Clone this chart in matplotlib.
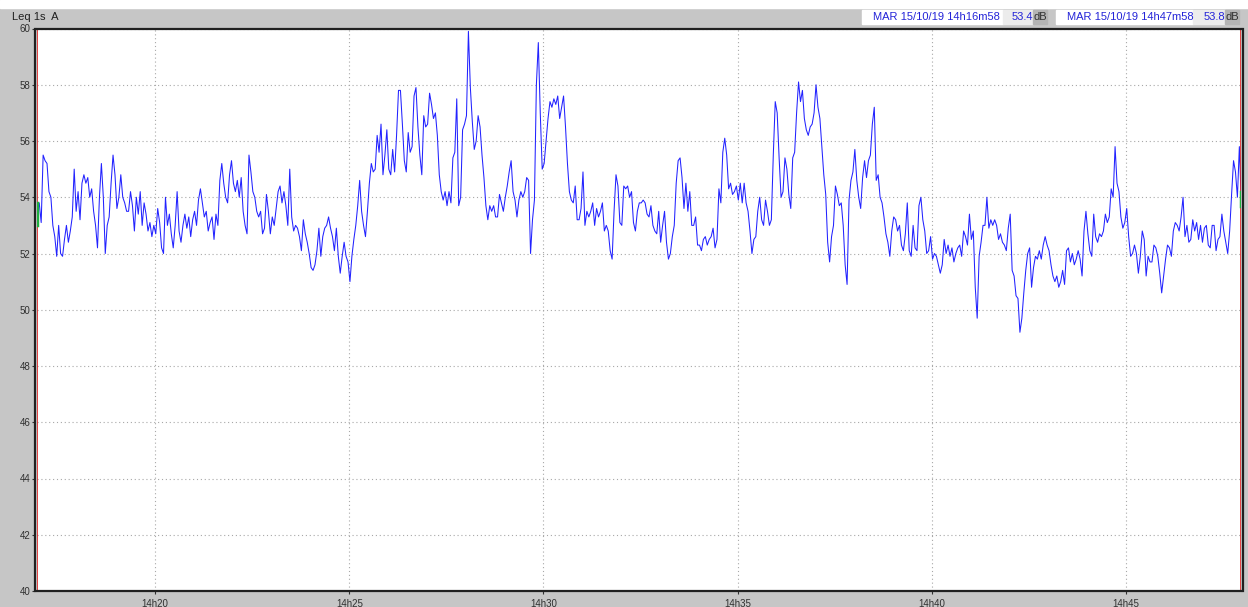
import numpy as np
import matplotlib
matplotlib.use("Agg")
import matplotlib.pyplot as plt
from matplotlib.patches import Rectangle

plt.rcParams['font.family'] = ['Liberation Sans', 'DejaVu Sans']

# Leq 1s A, MAR 15/10/19 14h16m58 -> 14h47m58, values read every 3 s
step_s = 3
start_label = "MAR 15/10/19 14h16m58"
end_label = "MAR 15/10/19 14h47m58"
start_value = 53.4
end_value = 53.8

# one row = one minute (20 values)
leq = [
    53.4, 53.8, 53.1, 55.5, 55.3, 55.2, 54.2, 54.0, 53.0, 52.6, 51.9, 53.0, 52.0, 51.9, 52.5, 53.0, 52.4, 52.8, 53.3, 55.0,
    53.5, 54.2, 53.2, 54.5, 54.8, 54.5, 54.7, 54.0, 54.3, 53.5, 53.0, 52.2, 54.0, 55.2, 54.0, 52.0, 53.0, 53.3, 54.5, 55.5,
    54.8, 53.6, 54.0, 54.8, 54.0, 53.8, 53.5, 53.5, 54.2, 53.7, 52.8, 54.0, 53.4, 54.2, 53.0, 53.8, 53.4, 52.8, 53.1, 52.6,
    53.0, 52.7, 53.6, 53.1, 52.2, 52.0, 54.0, 53.0, 53.4, 52.7, 52.2, 53.0, 54.2, 52.8, 52.4, 53.0, 53.4, 52.9, 53.3, 52.6,
    53.2, 53.5, 53.0, 53.9, 54.3, 53.8, 53.3, 53.5, 52.8, 53.1, 53.3, 52.5, 53.4, 53.0, 54.6, 55.2, 54.5, 54.0, 53.8, 54.8,
    55.3, 54.5, 54.2, 54.6, 54.0, 54.7, 53.5, 53.0, 52.7, 55.5, 54.9, 54.2, 54.0, 53.5, 53.3, 53.5, 52.7, 52.9, 54.1, 53.5,
    52.7, 53.3, 53.0, 53.6, 54.2, 54.4, 53.8, 54.2, 53.7, 53.0, 55.0, 53.3, 52.8, 53.0, 52.9, 52.6, 52.1, 53.2, 52.7, 52.4,
    52.0, 51.5, 51.4, 51.6, 52.1, 52.9, 51.9, 52.6, 52.9, 53.0, 53.3, 52.9, 52.6, 52.1, 52.9, 51.9, 51.3, 51.9, 52.4, 51.9,
    51.7, 51.0, 51.9, 52.5, 53.0, 53.7, 54.6, 53.5, 53.0, 52.6, 53.5, 54.5, 55.2, 54.9, 55.0, 56.2, 55.6, 56.6, 54.8, 55.5,
    56.4, 55.0, 54.8, 55.7, 54.9, 56.2, 57.8, 57.8, 56.6, 55.3, 54.9, 56.3, 55.6, 55.8, 57.6, 57.9, 56.5, 55.5, 54.8, 56.9,
    56.5, 56.6, 57.7, 57.3, 56.8, 57.0, 56.2, 54.8, 54.2, 53.9, 54.2, 53.7, 54.2, 53.8, 55.4, 55.6, 57.5, 53.7, 54.0, 56.4,
    56.6, 56.9, 59.9, 57.9, 56.7, 55.7, 56.0, 56.9, 56.5, 55.5, 54.7, 53.7, 53.2, 53.7, 53.5, 53.7, 53.3, 53.3, 54.1, 53.8,
    53.5, 54.0, 54.4, 54.9, 55.3, 54.2, 53.9, 53.3, 53.9, 54.2, 54.0, 54.2, 54.7, 54.6, 52.0, 53.2, 53.9, 58.0, 59.5, 57.0,
    55.0, 55.2, 56.0, 56.8, 57.4, 57.2, 57.5, 57.3, 57.6, 56.8, 57.2, 57.6, 56.5, 55.2, 54.2, 53.9, 53.8, 54.4, 53.2, 53.2,
    53.6, 54.9, 53.0, 53.5, 53.3, 53.5, 53.8, 53.0, 53.6, 53.3, 53.5, 53.8, 52.8, 53.0, 52.8, 52.1, 51.8, 53.5, 54.8, 54.4,
    53.1, 53.0, 54.4, 54.3, 54.4, 54.0, 54.2, 53.1, 52.8, 53.5, 53.8, 53.8, 53.9, 53.8, 53.4, 53.3, 53.7, 53.0, 52.8, 52.7,
    53.5, 52.4, 53.0, 53.5, 52.4, 51.8, 52.0, 52.6, 53.0, 54.5, 55.3, 55.4, 54.7, 53.6, 54.5, 53.5, 54.2, 53.0, 53.0, 53.3,
    52.3, 52.3, 52.1, 52.5, 52.6, 52.3, 52.5, 52.6, 52.9, 52.2, 52.5, 54.3, 53.8, 55.6, 56.1, 55.5, 54.3, 54.5, 54.1, 54.2,
    54.4, 53.9, 54.5, 53.8, 54.5, 53.8, 53.5, 52.8, 52.0, 52.5, 52.6, 53.5, 54.0, 53.2, 53.0, 53.9, 53.5, 53.0, 53.2, 55.5,
    57.4, 57.0, 55.4, 54.0, 54.2, 55.4, 55.0, 54.1, 53.6, 55.4, 55.6, 57.0, 58.1, 57.4, 57.8, 56.8, 56.4, 56.2, 56.5, 56.6,
    57.0, 58.0, 57.2, 56.8, 55.8, 54.8, 54.1, 52.4, 51.7, 52.6, 53.0, 54.4, 54.1, 53.7, 53.8, 53.0, 51.6, 50.9, 53.9, 54.6,
    54.9, 55.7, 54.6, 54.0, 53.6, 54.7, 55.3, 54.7, 55.3, 55.5, 56.6, 57.2, 54.6, 54.8, 54.0, 53.8, 53.3, 52.7, 52.4, 51.9,
    52.8, 53.3, 53.2, 52.8, 53.0, 52.3, 52.1, 52.7, 53.8, 52.1, 51.9, 53.0, 52.2, 52.1, 53.7, 54.0, 53.2, 52.8, 52.0, 52.1,
    52.6, 51.8, 52.0, 51.9, 51.6, 51.3, 51.6, 52.5, 52.0, 52.3, 51.9, 52.2, 51.7, 52.0, 52.2, 52.3, 51.9, 52.8, 52.6, 52.3,
    53.4, 52.5, 52.8, 50.8, 49.7, 51.9, 52.4, 53.0, 53.0, 54.0, 52.9, 53.2, 53.0, 53.2, 53.0, 52.5, 52.7, 52.4, 52.3, 52.1,
    52.9, 53.4, 51.4, 51.2, 50.5, 50.4, 49.2, 49.7, 50.6, 51.4, 52.0, 52.2, 50.8, 51.5, 51.9, 51.8, 52.1, 51.8, 52.3, 52.6,
    52.3, 52.1, 51.6, 51.2, 51.0, 51.2, 50.8, 51.0, 51.4, 50.9, 52.1, 52.2, 51.7, 52.0, 51.6, 51.8, 52.1, 51.8, 51.2, 52.8,
    53.5, 52.7, 52.1, 51.9, 53.4, 52.6, 52.4, 52.7, 52.6, 52.8, 53.4, 53.1, 53.3, 54.3, 54.0, 55.8, 54.5, 54.2, 53.3, 52.9,
    53.1, 53.6, 52.6, 51.9, 52.0, 52.3, 52.0, 51.3, 51.9, 52.8, 52.5, 51.2, 51.9, 51.7, 51.7, 52.3, 52.2, 51.9, 51.3, 50.6,
    51.2, 51.8, 52.3, 52.2, 51.9, 52.8, 53.1, 53.0, 52.8, 53.3, 54.0, 52.6, 53.0, 52.4, 52.5, 53.2, 52.8, 53.1, 52.5, 53.0,
    52.4, 52.9, 53.0, 52.3, 52.2, 53.0, 53.0, 52.1, 52.5, 52.6, 53.4, 52.8, 52.4, 52.0, 52.8, 54.1, 55.3, 54.9, 54.0, 55.8,
    53.8,
]

# seconds since 14h16m58
tick_times = [182, 482, 782, 1082, 1382, 1682]
tick_labels = ["14h20", "14h25", "14h30", "14h35", "14h40", "14h45"]
y_ticks = list(range(40, 61, 2))

t = np.arange(len(leq)) * step_s

W, H = 1248, 607
fig = plt.figure(figsize=(W / 100, H / 100), dpi=100, facecolor='#c6c6c6')


def box(x0, y0, x1, y1, color):
    fig.patches.append(Rectangle((x0 / W, 1 - y1 / H), (x1 - x0) / W, (y1 - y0) / H,
                                 transform=fig.transFigure, color=color, zorder=0))


def label(x, y, s, color, ha='left'):
    fig.text(x / W, 1 - y / H, s, color=color, fontsize=8, ha=ha, va='center')


# header
box(0, 0, W, 8, 'white')
label(12, 17, "Leq 1s  A", '#202020')
blue = '#2424d8'
box(862, 10, 1003, 24, 'white')
box(1003, 10, 1033, 24, '#ececec')
box(1033, 10, 1047, 24, '#b4b4b4')
label(873, 17, start_label, blue)
label(1033, 17, f"{start_value:.1f}", blue, ha='right')
label(1033, 17, "dB", '#303030')
box(1056, 10, 1193, 24, 'white')
box(1193, 10, 1225, 24, '#ececec')
box(1225, 10, 1239, 24, '#b4b4b4')
label(1067, 17, end_label, blue)
label(1225, 17, f"{end_value:.1f}", blue, ha='right')
label(1225, 17, "dB", '#303030')

ax = fig.add_axes([37.3 / W, (H - 591) / H, 1204 / W, (591 - 28.5) / H])
ax.set_facecolor('white')
ax.plot(t, leq, color='#2222ff', lw=0.75)
ax.set_xlim(0, 1860)
ax.set_ylim(40, 60)
ax.set_yticks(y_ticks)
ax.set_xticks(tick_times, tick_labels)
ax.grid(True, color='#a8a8a8', linestyle=(0, (1, 2.5)), linewidth=0.8)
ax.tick_params(labelsize=7, length=2, pad=1.2, colors='#303030')
ax.tick_params(axis='x', pad=3.5)

# cursors
ax.axvline(0, color='#e02020', lw=1.2)
ax.axvline(t[-1], color='#e02020', lw=1.2)
ax.plot([0, 0], [start_value - 0.4, start_value + 0.4], color='#20b040', lw=2.5)
ax.plot([t[-1], t[-1]], [end_value - 0.1, end_value + 0.4], color='#20b040', lw=2.5)

for side in ['left', 'right', 'top', 'bottom']:
    ax.spines[side].set_color('#202020')
    ax.spines[side].set_linewidth(1.6)
ax.spines['left'].set_position(('outward', 1.5))
ax.spines['right'].set_position(('outward', 1.5))

fig.savefig('out.png', dpi=100, facecolor=fig.get_facecolor())
